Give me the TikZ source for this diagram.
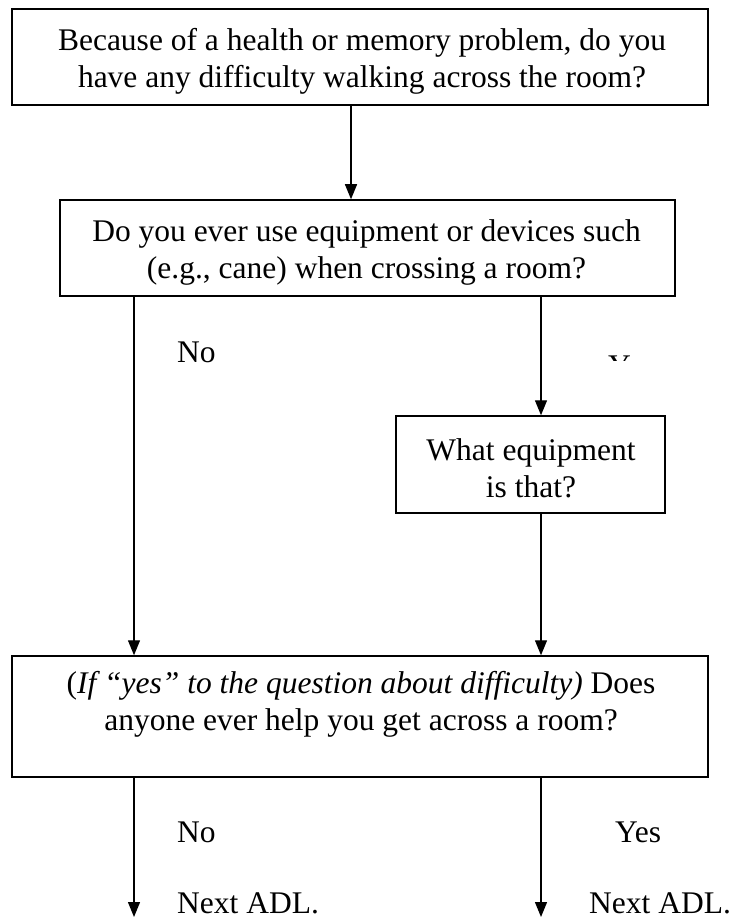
\documentclass[tikz,border=0pt]{standalone}
\usepackage{fontspec}
\setmainfont{Liberation Serif}
\usetikzlibrary{arrows.meta}
\tikzset{
  qbox/.style={draw, line width=1.5pt, inner sep=0pt},
  qtext/.style={align=center, inner sep=0pt, font=\fontsize{31.5}{37}\selectfont},
  answer/.style={anchor=base west, inner sep=0pt, font=\fontsize{31.5}{37}\selectfont},
  flow/.style={line width=1.3pt, -{Triangle[length=15pt,width=12pt]}}
}
\begin{document}
\begin{tikzpicture}[x=1pt, y=-1pt]
    \useasboundingbox (0,0) rectangle (731,920);
    % question boxes
    \node[qbox, minimum width=696pt, minimum height=96pt] (walk) at (360,57) {};
    \node[qtext] (walktext) at (362,61) {Because of a health or memory problem, do you\\have any difficulty walking across the room?};
    \node[qbox, minimum width=615pt, minimum height=96pt] (device) at (367.5,248) {};
    \node[qtext] (devicetext) at (366.5,252) {Do you ever use equipment or devices such\\(e.g., cane) when crossing a room?};
    \node[qbox, minimum width=269pt, minimum height=97pt] (what) at (530.5,464.5) {};
    \node[qtext] (whattext) at (531,468) {What equipment\\is that?};
    \node[qbox, minimum width=696pt, minimum height=121pt] (help) at (360,716.5) {};
    \node[qtext] (helptext) at (361,704.5) {(\textit{If “yes” to the question about difficulty)} Does\\anyone ever help you get across a room?};
    % columns of the arrows
    \coordinate (mid) at (351,0);
    \coordinate (left) at (134,0);
    \coordinate (right) at (541,0);
    \coordinate (endleft) at (134,917);
    \coordinate (endright) at (541,917);
    \draw[flow] (walk.south -| mid) -- (device.north -| mid);
    \draw[flow] (device.south -| left) -- (help.north -| left);
    \draw[flow] (device.south -| right) -- (what.north -| right);
    \draw[flow] (what.south -| right) -- (help.north -| right);
    \draw[flow] (help.south -| left) -- (endleft);
    \draw[flow] (help.south -| right) -- (endright);
    % answers
    \node[answer] (noone) at (177,362) {No};
    \begin{scope}
      \clip (600,354) rectangle (645,360);
      \node[answer] (yesone) at (608,376) {Yes};
    \end{scope}
    \node[answer] (notwo) at (177,842) {No};
    \node[answer] (yestwo) at (615,842) {Yes};
    \node[answer] (nextleft) at (177,913) {Next ADL.};
    \node[answer] (nextright) at (589,913) {Next ADL.};
  \end{tikzpicture}
\end{document}
